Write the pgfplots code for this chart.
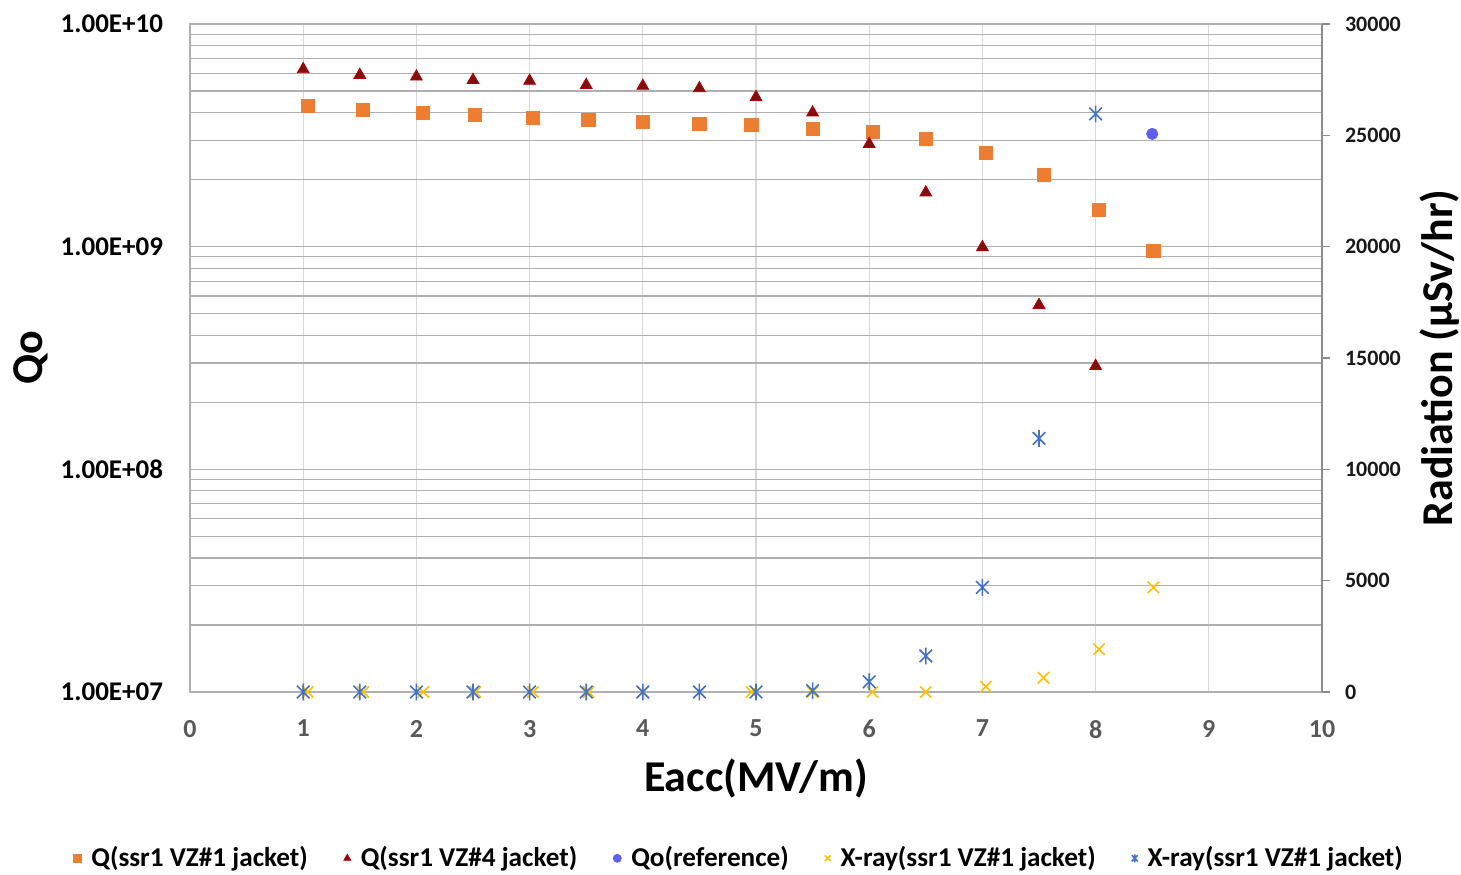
\documentclass[border=0pt]{standalone}
\usepackage{pgfplots}
\pgfplotsset{compat=1.18}
\usepackage{fontspec}
\setmainfont{Carlito}

\definecolor{qone}{HTML}{ED7D31}
\definecolor{qfour}{HTML}{7F1010}
\definecolor{qref}{HTML}{6060F0}
\definecolor{xyel}{HTML}{FFC000}
\definecolor{xblu}{HTML}{4472C4}
\definecolor{gridh}{HTML}{B0B0B0}
\definecolor{gridv}{HTML}{D9D9D9}

% Excel style star: an x with a vertical bar
\pgfdeclareplotmark{xstar}{%
  \pgfpathmoveto{\pgfpoint{-.75\pgfplotmarksize}{-.75\pgfplotmarksize}}%
  \pgfpathlineto{\pgfpoint{.75\pgfplotmarksize}{.75\pgfplotmarksize}}%
  \pgfpathmoveto{\pgfpoint{-.75\pgfplotmarksize}{.75\pgfplotmarksize}}%
  \pgfpathlineto{\pgfpoint{.75\pgfplotmarksize}{-.75\pgfplotmarksize}}%
  \pgfpathmoveto{\pgfpoint{0pt}{-\pgfplotmarksize}}%
  \pgfpathlineto{\pgfpoint{0pt}{\pgfplotmarksize}}%
  \pgfusepathqstroke}

\begin{document}
\begin{tikzpicture}
% left axis: Q values (log)
\begin{semilogyaxis}[
    at={(0,0)}, anchor=south west,
    scale only axis, width=566pt, height=334pt,
    xmin=0, xmax=10, ymin=1e7, ymax=1e10,
    xtick={0,1,...,10},
    ytick={1e7,1e8,1e9,1e10},
    yticklabels={1.00E+07,1.00E+08,1.00E+09,1.00E+10},
    /pgf/number format/assume math mode=true,
    major tick length=0pt, minor tick length=0pt,
    xmajorgrids, ymajorgrids, yminorgrids,
    every axis x grid/.append style={gridv, line width=0.6pt},
    every axis y grid/.append style={gridh, line width=0.6pt},
    axis line style={gridh, line width=0.6pt},
    xticklabel style={font=\fontsize{13}{15}\selectfont\bfseries, text=black!65, yshift=-10.5pt},
    yticklabel style={font=\fontsize{13.5}{15}\selectfont\bfseries, text=black, xshift=-10pt},
    xlabel={Eacc(MV/m)}, ylabel={Qo},
    xlabel style={font=\fontsize{22}{26}\selectfont\bfseries, at={(axis description cs:0.5,-0.129)}, anchor=center},
    ylabel style={font=\fontsize{22}{26}\selectfont\bfseries, at={(axis description cs:-0.141,0.5)}, anchor=center, rotate=0},
    legend style={at={(0.486,-0.249)}, anchor=center, draw=none, legend columns=-1,
        font=\fontsize{13.6}{15}\selectfont\bfseries,
        /tikz/every odd column/.append style={column sep=3pt},
        /tikz/every even column/.append style={column sep=16pt}},
    legend image post style={mark size=2pt},
]
\addplot[only marks, mark=square*, mark size=3.3pt, draw=qone, fill=qone] coordinates {
    (1.04,4.28e9)(1.53,4.11e9)(2.06,3.98e9)(2.52,3.90e9)(3.03,3.79e9)(3.52,3.71e9)
    (4.00,3.63e9)(4.50,3.56e9)(4.96,3.52e9)(5.50,3.38e9)(6.03,3.27e9)(6.50,3.05e9)
    (7.03,2.64e9)(7.54,2.10e9)(8.03,1.46e9)(8.51,9.57e8)
};
\addlegendentry{Q(ssr1 VZ\#1 jacket)}
\addplot[only marks, mark=triangle*, mark size=3.4pt, draw=red!70!black, fill=qfour] coordinates {
    (1.0,6.26e9)(1.5,5.90e9)(2.0,5.80e9)(2.5,5.60e9)(3.0,5.55e9)(3.5,5.32e9)
    (4.0,5.27e9)(4.5,5.14e9)(5.0,4.69e9)(5.5,4.00e9)(6.0,2.89e9)(6.5,1.75e9)
    (7.0,9.94e8)(7.5,5.47e8)(8.0,2.91e8)
};
\addlegendentry{Q(ssr1 VZ\#4 jacket)}
\addplot[only marks, mark=*, mark size=2.8pt, draw=qref, fill=qref] coordinates {
    (8.5,3.21e9)
};
\addlegendentry{Qo(reference)}
\addlegendimage{only marks, mark=x, mark size=3.5pt, draw=xyel, line width=0.8pt}
\addlegendentry{X-ray(ssr1 VZ\#1 jacket)}
\addlegendimage{only marks, mark=xstar, mark size=3.8pt, draw=xblu, line width=0.8pt}
\addlegendentry{X-ray(ssr1 VZ\#1 jacket)}
\end{semilogyaxis}
% right axis: radiation
\begin{axis}[
    at={(0,0)}, anchor=south west,
    scale only axis, width=566pt, height=334pt,
    xmin=0, xmax=10, ymin=0, ymax=30000,
    axis x line=none,
    axis y line*=right,
    ytick={0,5000,...,30000},
    scaled y ticks=false,
    /pgf/number format/assume math mode=true,
    /pgf/number format/1000 sep={},
    tick align=outside, major tick length=4pt,
    y axis line style={black!45, line width=0.8pt},
    ytick style={black!45, line width=0.8pt},
    yticklabel style={font=\fontsize{11}{13}\selectfont\bfseries, text=black!90, xshift=4pt},
    ylabel={Radiation (μSv/hr)},
    ylabel style={font=\fontsize{22}{26}\selectfont\bfseries, at={(axis description cs:1.104,0.5)}, anchor=center, rotate=0},
]
\addplot[only marks, mark=x, mark size=4pt, draw=xyel, line width=0.8pt] coordinates {
    (1.04,0)(1.53,0)(2.06,0)(2.52,0)(3.03,0)(3.52,0)(4.00,0)(4.50,0)(4.96,0)
    (5.50,0)(6.03,0)(6.50,0)(7.03,240)(7.54,640)(8.03,1920)(8.51,4700)
};
\addplot[only marks, mark=xstar, mark size=4.2pt, draw=xblu, line width=0.8pt] coordinates {
    (1.0,0)(1.5,0)(2.0,0)(2.5,0)(3.0,0)(3.5,0)(4.0,0)(4.5,0)(5.0,0)
    (5.5,60)(6.0,460)(6.5,1620)(7.0,4700)(7.5,11390)(8.0,25960)
};
\end{axis}
\pgfresetboundingbox
\path[use as bounding box] (-95pt,-91pt) rectangle (635.5pt,346pt);
\end{tikzpicture}
\end{document}
